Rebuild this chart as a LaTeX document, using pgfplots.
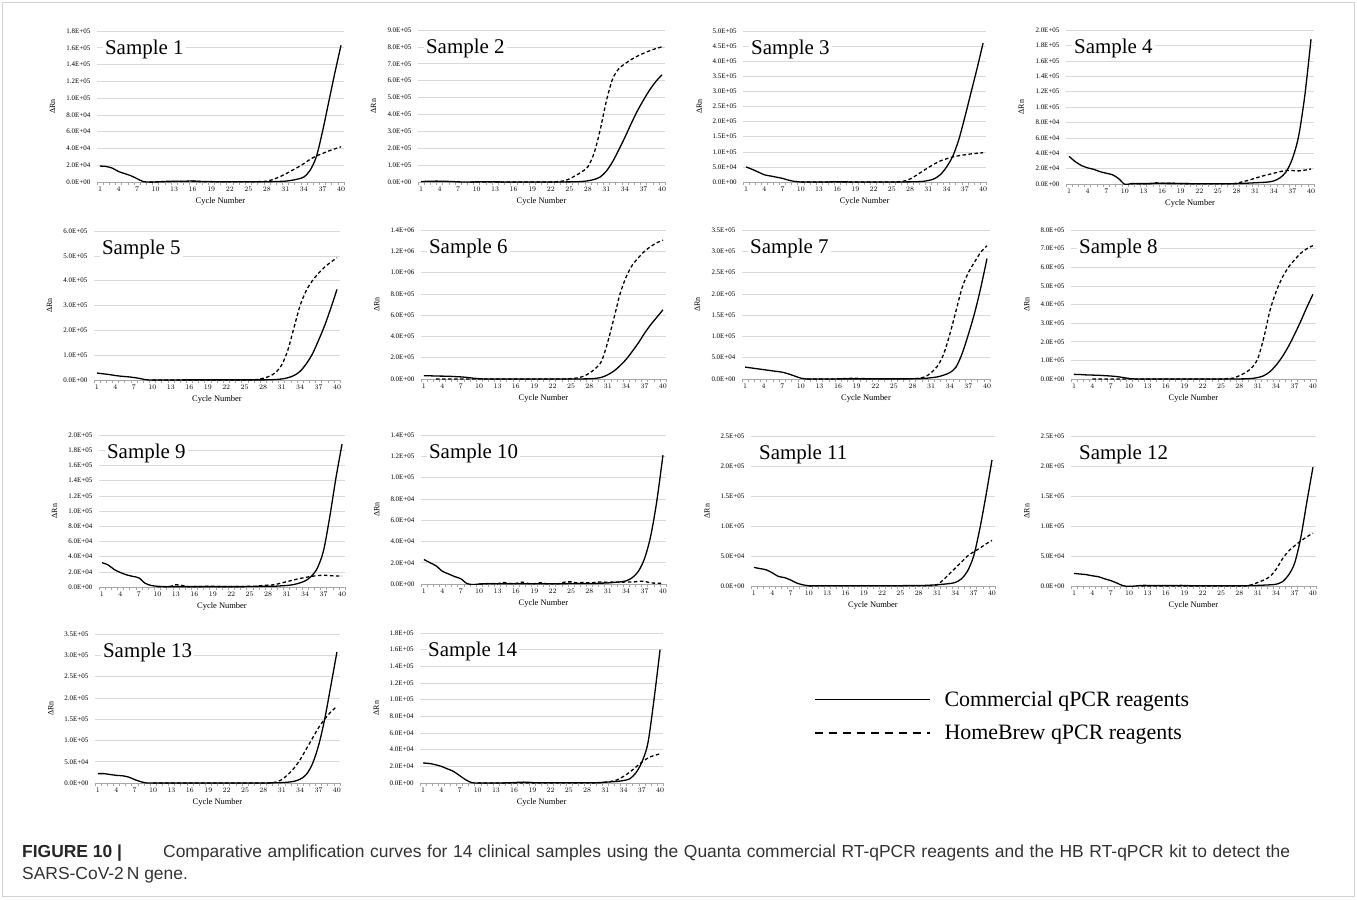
\documentclass[border=0pt]{standalone}
\usepackage{fontspec}
\setmainfont{Liberation Serif}
\setsansfont{Liberation Sans}
\usepackage{pgfplots}
\pgfplotsset{compat=1.18}
\definecolor{gridc}{HTML}{D9D9D9}
\definecolor{axc}{HTML}{A6A6A6}
\definecolor{capc}{HTML}{333333}
\pgfplotsset{
  panel/.style={
    scale only axis, anchor=south west,
    xmin=0.5, xmax=40.5, ymin=0,
    axis x line=bottom, axis y line=left, axis line style={-},
    y axis line style={draw=none},
    x axis line style={axc, line width=0.7bp},
    xtick={1,4,...,40}, minor xtick={0.5,1.5,...,40.5},
    tick align=outside, major tick length=0pt, minor tick length=2.5bp,
    xtick style={axc, line width=0.5bp}, ytick style={draw=none},
    ymajorgrids, major grid style={gridc, line width=0.6bp},
    ticklabel style={font=\fontsize{7}{7}\selectfont},
    xticklabel style={yshift=-1bp},
    yticklabel style={xshift=-3bp},
    xlabel={Cycle Number}, ylabel={ΔRn},
    xlabel style={font=\fontsize{8.5}{8.5}\selectfont, at={(rel axis cs:0.5,0)}, anchor=center, yshift=-19bp},
    ylabel style={font=\fontsize{8}{8}\selectfont, at={(rel axis cs:-0.18,0.5)}, anchor=center},
  },
  sol/.style={black, line width=1.3bp, smooth, tension=0.5},
  das/.style={black, line width=1.3bp, smooth, tension=0.5, dash pattern=on 3.5bp off 2.5bp},
  ya/.style={ymax=180, ytick={0,20,...,180}, yticklabels={0.0E+00,2.0E+04,4.0E+04,6.0E+04,8.0E+04,1.0E+05,1.2E+05,1.4E+05,1.6E+05,1.8E+05}},
  yb/.style={ymax=200, ytick={0,20,...,200}, yticklabels={0.0E+00,2.0E+04,4.0E+04,6.0E+04,8.0E+04,1.0E+05,1.2E+05,1.4E+05,1.6E+05,1.8E+05,2.0E+05}},
  yc/.style={ymax=140, ytick={0,20,...,140}, yticklabels={0.0E+00,2.0E+04,4.0E+04,6.0E+04,8.0E+04,1.0E+05,1.2E+05,1.4E+05}},
  yd/.style={ymax=#1, ytick={0,50,...,#1}, yticklabels={0.0E+00,5.0E+04,1.0E+05,1.5E+05,2.0E+05,2.5E+05,3.0E+05,3.5E+05,4.0E+05,4.5E+05,5.0E+05}},
  ye/.style={ymax=#1, ytick={0,100,...,#1}, yticklabels={0.0E+00,1.0E+05,2.0E+05,3.0E+05,4.0E+05,5.0E+05,6.0E+05,7.0E+05,8.0E+05,9.0E+05}},
  yf/.style={ymax=1400, ytick={0,200,...,1400}, yticklabels={0.0E+00,2.0E+05,4.0E+05,6.0E+05,8.0E+05,1.0E+06,1.2E+06,1.4E+06}},
}
\newcommand\ttl[1]{\node[anchor=base west, fill=white, inner sep=2bp, xshift=6bp, yshift=-23bp, font=\fontsize{21}{21}\selectfont] at (rel axis cs:0,1) {#1};}
\begin{document}
\begin{tikzpicture}[x=1bp,y=1bp]
\path[use as bounding box] (0,0) rectangle (1357,-899);
\draw[gray!35, line width=1.2bp] (2.5,-2.5) rectangle (1354.5,-896.5);

% Sample 1
\begin{axis}[panel, ya, at={(96.9bp,-182bp)}, width=247.2bp, height=151bp]
\addplot[sol] coordinates {(1,19)(2,18.5)(3,16.5)(4,12.5)(5,10)(6,7.5)(7,4)(8,0.5)(9,0)(10,0)(11,0.5)(12,0.8)(13,0.8)(14,0.8)(15,1)(16,1.2)(17,0.8)(18,0.5)(19,0.5)(20,0.3)(21,0.3)(22,0.3)(23,0.3)(24,0.3)(25,0.3)(26,0.3)(27,0.3)(28,0.4)(29,0.5)(30,0.7)(31,1)(32,2)(33,3.5)(34,6)(35,14)(36,30)(37,60)(38,95)(39,130)(40,163)};
\addplot[das] coordinates {(9,0)(10,0.2)(11,0.3)(12,0.3)(13,0.5)(14,0.5)(15,0.5)(16,0.8)(17,0.5)(18,0.3)(19,0.3)(20,0.3)(21,0.3)(22,0.2)(23,0.2)(24,0.2)(25,0.2)(26,0.3)(27,0.5)(28,1)(29,3)(30,6)(31,9.5)(32,13.5)(33,17.5)(34,22)(35,27)(36,31)(37,34)(38,37)(39,39.5)(40,42)};
\ttl{Sample 1}
\end{axis}

% Sample 2
\begin{axis}[panel, ye=900, at={(417.9bp,-182bp)}, width=247.2bp, height=152bp]
\addplot[sol] coordinates {(1,3)(2,4)(3,5)(4,5)(5,4)(6,3)(7,1)(8,0)(9,0)(10,1)(11,1)(12,1)(13,1)(14,0.5)(15,0.5)(16,0.5)(17,0.5)(18,0.5)(19,0.5)(20,0.5)(21,0.5)(22,0.5)(23,0.5)(24,0.5)(25,0.8)(26,1.5)(27,3)(28,7)(29,15)(30,30)(31,65)(32,120)(33,190)(34,265)(35,345)(36,420)(37,485)(38,545)(39,595)(40,635)};
\addplot[das] coordinates {(9,0)(10,0)(11,0)(12,0)(13,0)(14,0)(15,0)(16,0)(17,0)(18,0)(19,0)(20,0)(21,0)(22,0.5)(23,2)(24,6)(25,18)(26,38)(27,60)(28,90)(29,170)(30,310)(31,480)(32,610)(33,670)(34,700)(35,725)(36,745)(37,762)(38,777)(39,790)(40,800)};
\ttl{Sample 2}
\end{axis}

% Sample 3
\begin{axis}[panel, yd=500, at={(743.0bp,-182bp)}, width=243.1bp, height=151bp]
\addplot[sol] coordinates {(1,50)(2,42)(3,33)(4,24)(5,20)(6,16)(7,12)(8,6)(9,2)(10,0)(11,0)(12,0)(13,0)(14,0)(15,0.5)(16,0.5)(17,0.5)(18,0.3)(19,0.3)(20,0.3)(21,0.3)(22,0.3)(23,0.3)(24,0.3)(25,0.3)(26,0.3)(27,0.3)(28,0.5)(29,1)(30,2)(31,5)(32,11)(33,25)(34,50)(35,85)(36,140)(37,215)(38,295)(39,375)(40,460)};
\addplot[das] coordinates {(10,0)(11,0)(12,0)(13,0)(14,0)(15,0.5)(16,1)(17,0.5)(18,0.3)(19,0.3)(20,0.3)(21,0.3)(22,0.3)(23,0.3)(24,0.3)(25,0.3)(26,0.5)(27,3)(28,10)(29,22)(30,35)(31,48)(32,60)(33,70)(34,77)(35,83)(36,87)(37,90)(38,93)(39,95)(40,97)};
\ttl{Sample 3}
\end{axis}

% Sample 4
\begin{axis}[panel, yb, at={(1065.9bp,-184bp)}, width=248.2bp, height=154bp]
\addplot[sol] coordinates {(1,36)(2,29)(3,24)(4,21)(5,19)(6,16)(7,14)(8,12)(9,7)(10,-0.5)(11,0.5)(12,0.5)(13,0.5)(14,0.5)(15,1)(16,1)(17,0.8)(18,0.8)(19,0.6)(20,0.5)(21,0.4)(22,0.3)(23,0.3)(24,0.3)(25,0.3)(26,0.3)(27,0.3)(28,0.5)(29,0.8)(30,1.2)(31,1.6)(32,2)(33,2.5)(34,4)(35,8)(36,16)(37,33)(38,62)(39,115)(40,188)};
\addplot[das] coordinates {(11,0.3)(12,0.3)(13,0.3)(14,0.5)(15,1.5)(16,1)(17,0.8)(18,0.8)(19,0.5)(20,0.5)(21,0.3)(22,0.3)(23,0.3)(24,0.3)(25,0.3)(26,0.3)(27,0.3)(28,1)(29,3)(30,5)(31,7.5)(32,10)(33,12)(34,14)(35,16)(36,17.5)(37,17.5)(38,17)(39,18)(40,19.5)};
\ttl{Sample 4}
\end{axis}

% Sample 5
\begin{axis}[panel, ye=600, at={(93.9bp,-380bp)}, width=246.2bp, height=149bp]
\addplot[sol] coordinates {(1,28)(2,25)(3,22)(4,18)(5,15)(6,13)(7,10)(8,6)(9,1)(10,0)(11,0)(12,0)(13,0)(14,0)(15,0.5)(16,0.5)(17,0.5)(18,0.5)(19,0.5)(20,0.5)(21,0.5)(22,0.5)(23,0.5)(24,0.5)(25,0.5)(26,0.5)(27,0.5)(28,0.5)(29,1)(30,2)(31,4)(32,9)(33,18)(34,35)(35,65)(36,105)(37,160)(38,220)(39,290)(40,365)};
\addplot[das] coordinates {(10,0)(11,0)(12,0)(13,0)(14,0)(15,0)(16,0.5)(17,0.5)(18,0.5)(19,0.5)(20,0.5)(21,0.5)(22,0.5)(23,0.5)(24,0.5)(25,0.5)(26,0.5)(27,2)(28,7)(29,15)(30,30)(31,60)(32,120)(33,210)(34,300)(35,360)(36,400)(37,430)(38,455)(39,475)(40,492)};
\ttl{Sample 5}
\end{axis}

% Sample 6
\begin{axis}[panel, yf, at={(420.9bp,-379bp)}, width=245.1bp, height=149bp]
\addplot[sol] coordinates {(1,30)(2,30)(3,28)(4,27)(5,26)(6,23)(7,20)(8,15)(9,8)(10,3)(11,0)(12,0)(13,0)(14,0)(15,0)(16,0)(17,0)(18,0)(19,0)(20,0)(21,0)(22,0)(23,0)(24,0)(25,0)(26,0.5)(27,1)(28,2)(29,6)(30,16)(31,40)(32,75)(33,125)(34,185)(35,260)(36,340)(37,430)(38,510)(39,580)(40,650)};
\addplot[das] coordinates {(3,0)(4,0)(5,0)(6,0)(7,0)(8,0)(9,0)(10,0)(11,0)(12,0)(13,0)(14,0)(15,0)(16,0)(17,0)(18,0)(19,0)(20,0)(21,0)(22,0)(23,0)(24,1)(25,4)(26,10)(27,25)(28,55)(29,100)(30,170)(31,350)(32,570)(33,800)(34,960)(35,1070)(36,1140)(37,1200)(38,1245)(39,1280)(40,1305)};
\ttl{Sample 6}
\end{axis}

% Sample 7
\begin{axis}[panel, yd=350, at={(741.9bp,-379bp)}, width=248.2bp, height=149bp]
\addplot[sol] coordinates {(1,28)(2,26)(3,24)(4,22)(5,20)(6,18)(7,16)(8,12)(9,7)(10,2)(11,0)(12,0)(13,0)(14,0)(15,0)(16,0.3)(17,0.3)(18,0.3)(19,0.3)(20,0.3)(21,0.3)(22,0.3)(23,0.3)(24,0.3)(25,0.3)(26,0.3)(27,0.3)(28,0.5)(29,0.8)(30,1.5)(31,3)(32,5)(33,9)(34,15)(35,28)(36,60)(37,105)(38,155)(39,215)(40,283)};
\addplot[das] coordinates {(11,0)(12,0)(13,0)(14,0)(15,0)(16,0.5)(17,1)(18,1.5)(19,1.5)(20,1)(21,0.5)(22,0.5)(23,0.5)(24,0.5)(25,0.5)(26,0.5)(27,0.5)(28,0.5)(29,2)(30,5)(31,15)(32,30)(33,58)(34,105)(35,160)(36,215)(37,250)(38,275)(39,298)(40,313)};
\ttl{Sample 7}
\end{axis}

% Sample 8
\begin{axis}[panel, ye=800, at={(1070.9bp,-379bp)}, width=245.1bp, height=149bp]
\addplot[sol] coordinates {(1,25)(2,24)(3,22)(4,21)(5,20)(6,18)(7,16)(8,13)(9,8)(10,3)(11,0)(12,0)(13,0)(14,0)(15,0)(16,0)(17,0)(18,0)(19,0)(20,0)(21,0)(22,0)(23,0)(24,0)(25,0)(26,0)(27,0.3)(28,0.5)(29,1)(30,3)(31,8)(32,18)(33,40)(34,75)(35,120)(36,175)(37,240)(38,310)(39,385)(40,455)};
\addplot[das] coordinates {(4,0)(5,0)(6,0)(7,0)(8,0)(9,0)(10,0)(11,0)(12,0)(13,0)(14,0)(15,0)(16,0)(17,0)(18,0)(19,0)(20,0)(21,0)(22,0)(23,0)(24,0)(25,0.5)(26,2)(27,5)(28,18)(29,35)(30,60)(31,110)(32,225)(33,370)(34,470)(35,545)(36,600)(37,640)(38,675)(39,700)(40,716)};
\ttl{Sample 8}
\end{axis}

% Sample 9
\begin{axis}[panel, yb, at={(98.9bp,-587bp)}, width=246.2bp, height=152bp]
\addplot[sol] coordinates {(1,32)(2,29)(3,23)(4,19)(5,16)(6,14)(7,12)(8,5)(9,2)(10,1)(11,0.5)(12,0.5)(13,0.5)(14,0.5)(15,0.5)(16,0.5)(17,0.5)(18,0.5)(19,0.5)(20,0.5)(21,0.5)(22,0.5)(23,0.5)(24,0.5)(25,0.8)(26,0.8)(27,1)(28,1)(29,1)(30,1.5)(31,2)(32,3)(33,5)(34,8)(35,14)(36,25)(37,48)(38,92)(39,143)(40,188)};
\addplot[das] coordinates {(10,0.3)(11,0.3)(12,0.5)(13,3)(14,2)(15,0.5)(16,0.5)(17,0.5)(18,1)(19,1)(20,0.5)(21,0.5)(22,0.5)(23,0.5)(24,0.5)(25,1)(26,1)(27,2)(28,2.5)(29,3)(30,5)(31,7)(32,9)(33,11)(34,12.5)(35,14)(36,15)(37,15.5)(38,15)(39,14.5)(40,14.5)};
\ttl{Sample 9}
\end{axis}

% Sample 10
\begin{axis}[panel, yc, at={(420.9bp,-584bp)}, width=245.1bp, height=149bp]
\addplot[sol] coordinates {(1,23)(2,20)(3,17)(4,12)(5,9.5)(6,7)(7,5)(8,0.5)(9,-0.5)(10,0)(11,0.2)(12,0.2)(13,0.3)(14,0.3)(15,0.3)(16,0.3)(17,0.3)(18,0.3)(19,0.3)(20,0.3)(21,0.3)(22,0.3)(23,0.3)(24,0.3)(25,0.5)(26,0.5)(27,0.5)(28,0.5)(29,0.5)(30,0.8)(31,1)(32,1.5)(33,2)(34,3)(35,6)(36,12)(37,24)(38,45)(39,78)(40,121)};
\addplot[das] coordinates {(10,0)(11,0.3)(12,0.5)(13,0.3)(14,1.5)(15,0.5)(16,0.5)(17,1.8)(18,0.5)(19,0.3)(20,1.2)(21,0.3)(22,0.2)(23,0.3)(24,1.8)(25,2)(26,1)(27,1.5)(28,1)(29,1.5)(30,2)(31,1.5)(32,2)(33,1.5)(34,2)(35,1.8)(36,2.5)(37,2.5)(38,1)(39,0.8)(40,0.5)};
\ttl{Sample 10}
\end{axis}

% Sample 11
\begin{axis}[panel, yd=250, at={(750.9bp,-586bp)}, width=244.1bp, height=150bp]
\addplot[sol] coordinates {(1,31)(2,29)(3,27)(4,22)(5,16)(6,14)(7,10)(8,5)(9,2)(10,0.5)(11,0.3)(12,0.3)(13,0.5)(14,0.5)(15,0.5)(16,0.5)(17,0.5)(18,0.5)(19,0.5)(20,0.5)(21,0.5)(22,0.5)(23,0.5)(24,0.5)(25,0.5)(26,0.8)(27,1)(28,1)(29,1)(30,1.5)(31,2)(32,3)(33,4)(34,6)(35,12)(36,25)(37,50)(38,95)(39,150)(40,210)};
\addplot[das] coordinates {(10,0)(11,0.3)(12,0.3)(13,0.5)(14,0.5)(15,0.5)(16,0.5)(17,0.5)(18,0.5)(19,0.5)(20,0.5)(21,0.5)(22,0.5)(23,0.5)(24,0.5)(25,0.5)(26,0.5)(27,0.5)(28,0.5)(29,0.5)(30,0.5)(31,2)(32,10)(33,20)(34,30)(35,40)(36,50)(37,57)(38,63)(39,70)(40,76)};
\ttl{Sample 11}
\end{axis}

% Sample 12
\begin{axis}[panel, yd=250, at={(1070.9bp,-586bp)}, width=245.1bp, height=150bp]
\addplot[sol] coordinates {(1,21)(2,20)(3,19)(4,17)(5,15.5)(6,12)(7,9)(8,5)(9,0.5)(10,-0.5)(11,0)(12,1)(13,1)(14,1)(15,1)(16,0.8)(17,0.8)(18,1)(19,1)(20,0.5)(21,0.5)(22,0.5)(23,0.5)(24,0.5)(25,0.5)(26,0.5)(27,0.5)(28,0.5)(29,0.5)(30,0.8)(31,1)(32,1.5)(33,2)(34,3)(35,7)(36,18)(37,38)(38,80)(39,140)(40,198)};
\addplot[das] coordinates {(12,0)(13,0)(14,0)(15,0)(16,0)(17,0)(18,0)(19,0)(20,0)(21,0)(22,0)(23,0)(24,0)(25,0)(26,0)(27,0)(28,0)(29,0.3)(30,2)(31,6)(32,10)(33,16)(34,28)(35,45)(36,58)(37,67)(38,75)(39,82)(40,88)};
\ttl{Sample 12}
\end{axis}

% Sample 13
\begin{axis}[panel, yd=350, at={(94.9bp,-783bp)}, width=245.1bp, height=149bp]
\addplot[sol] coordinates {(1,22)(2,22)(3,20)(4,18)(5,17)(6,14)(7,8)(8,3)(9,0)(10,0)(11,0)(12,0)(13,0)(14,0)(15,0)(16,0)(17,0)(18,0)(19,0)(20,0)(21,0)(22,0)(23,0)(24,0)(25,0)(26,0)(27,0)(28,0)(29,0.3)(30,0.5)(31,1)(32,2)(33,4)(34,9)(35,20)(36,45)(37,88)(38,150)(39,228)(40,308)};
\addplot[das] coordinates {(10,0)(11,0)(12,0)(13,0)(14,0)(15,0)(16,0)(17,0)(18,0)(19,0)(20,0)(21,0)(22,0)(23,0)(24,0)(25,0)(26,0)(27,0)(28,0)(29,0.3)(30,2)(31,8)(32,20)(33,35)(34,55)(35,80)(36,105)(37,130)(38,150)(39,167)(40,180)};
\ttl{Sample 13}
\end{axis}

% Sample 14 (with legend)
\begin{axis}[panel, ya, at={(420.0bp,-783bp)}, width=243.1bp, height=150bp,
  legend style={at={(axis description cs:1.608,0.64)}, anchor=north west, draw=none, fill=none,
    font=\fontsize{22}{22}\selectfont, row sep=13bp, column sep=12bp, nodes={inner sep=2bp}},
  legend cell align=left,
  legend entries={Commercial qPCR reagents, HomeBrew qPCR reagents},
  legend image code/.code={\draw[#1] (0bp,0bp) -- (115bp,0bp);}]
\addlegendimage{black, line width=1.4bp}
\addlegendimage{black, line width=1.4bp, dash pattern=on 8bp off 6bp}
\addplot[sol] coordinates {(1,24)(2,23.5)(3,22)(4,20)(5,17)(6,14)(7,9)(8,4)(9,0.5)(10,0)(11,0)(12,0)(13,0)(14,0)(15,0.3)(16,0.5)(17,1)(18,1)(19,0.5)(20,0.3)(21,0.3)(22,0.3)(23,0.3)(24,0.3)(25,0.3)(26,0.3)(27,0.3)(28,0.3)(29,0.3)(30,0.5)(31,1)(32,1.5)(33,2)(34,3)(35,5)(36,12)(37,25)(38,48)(39,100)(40,160)};
\addplot[das] coordinates {(10,0)(11,0)(12,0)(13,0)(14,0)(15,0)(16,0)(17,0)(18,0)(19,0)(20,0)(21,0)(22,0)(23,0)(24,0)(25,0)(26,0)(27,0)(28,0)(29,0)(30,0.3)(31,1)(32,2)(33,4)(34,8)(35,13)(36,19)(37,25)(38,30)(39,33)(40,35)};
\ttl{Sample 14}
\end{axis}

% caption
\node[anchor=base west, inner sep=0pt, text=black!85, font=\sffamily\bfseries\fontsize{17.5}{17.5}\selectfont] at (22,-857) {FIGURE 10 |};
\node[anchor=base west, inner sep=0pt, text=capc, font=\sffamily\fontsize{17.5}{17.5}\selectfont] at (163,-857) {\hbox to 1127bp{Comparative amplification curves for 14 clinical samples using the Quanta commercial RT-qPCR reagents and the HB RT-qPCR kit to detect the}};
\node[anchor=base west, inner sep=0pt, text=capc, font=\sffamily\fontsize{17.5}{17.5}\selectfont] at (22,-879) {SARS-CoV-2\,N gene.};
\end{tikzpicture}
\end{document}
